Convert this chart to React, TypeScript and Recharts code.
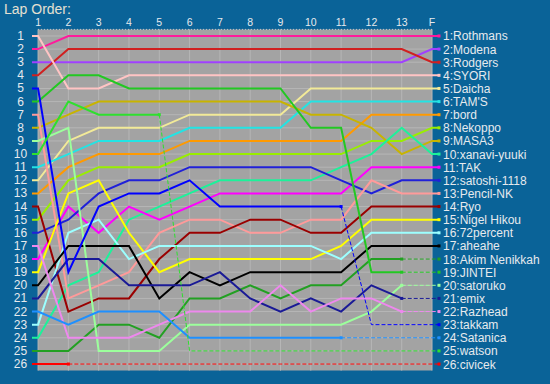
import { LineChart, Line, XAxis, YAxis, ReferenceArea, ReferenceLine } from 'recharts';

// lap columns: 1..13 then F
const lapLabels = ['1', '2', '3', '4', '5', '6', '7', '8', '9', '10', '11', '12', '13', 'F'];

const driverNames = [
  'Rothmans', 'Modena', 'Rodgers', 'SYORI', 'Daicha', "TAM'S", 'bord', 'Nekoppo', 'MASA3',
  'xanavi-yuuki', 'TAK', 'satoshi-1118', 'Pencil-NK', 'Ryo', 'Nigel Hikou', '72percent',
  'aheahe', 'Akim Nenikkah', 'JINTEI', 'satoruko', 'emix', 'Razhead', 'takkam', 'Satanica',
  'watson', 'civicek',
];

const driverColors = [
  '#ff1a9c', '#a040ff', '#d02020', '#ffc4c4', '#f2ea98', '#22e4e4', '#ff9a00', '#99ee00', '#c8b400',
  '#1cf29a', '#ff00ff', '#2020d8', '#ff9a9a', '#9a0000', '#ffff00', '#9cffff',
  '#000000', '#22a022', '#22c822', '#9cff9c', '#1a1a96', '#ee88ee', '#0000ff', '#1e90ff',
  '#2ee02e', '#ff0000',
];

// position at each lap (1..13, F)
const rothmans = [2, 1, 1, 1, 1, 1, 1, 1, 1, 1, 1, 1, 1, 1];
const modena = [3, 3, 3, 3, 3, 3, 3, 3, 3, 3, 3, 3, 3, 2];
const rodgers = [4, 2, 2, 2, 2, 2, 2, 2, 2, 2, 2, 2, 2, 3];
const syori = [1, 5, 5, 4, 4, 4, 4, 4, 4, 4, 4, 4, 4, 4];
const daicha = [12, 9, 8, 8, 8, 7, 7, 7, 7, 5, 5, 5, 5, 5];
const tams = [11, 10, 9, 9, 9, 8, 8, 8, 8, 6, 6, 6, 6, 6];
const bord = [13, 11, 10, 10, 10, 9, 9, 9, 9, 9, 9, 7, 7, 7];
const nekoppo = [15, 12, 11, 11, 11, 10, 10, 10, 10, 10, 10, 9, 9, 8];
const masa3 = [8, 7, 6, 6, 6, 6, 6, 6, 6, 7, 7, 8, 10, 9];
const xanavi = [24, 20, 19, 15, 14, 13, 12, 12, 12, 12, 11, 10, 8, 10];
const tak = [18, 14, 16, 14, 15, 14, 13, 13, 13, 13, 13, 11, 11, 11];
const satoshi = [16, 15, 13, 12, 12, 11, 11, 11, 11, 11, 12, 13, 12, 12];
const pencil = [7, 21, 20, 19, 16, 15, 15, 16, 16, 15, 15, 12, 13, 13];
const ryo = [14, 22, 21, 21, 18, 16, 16, 15, 15, 16, 16, 14, 14, 14];
const nigel = [19, 13, 12, 16, 19, 18, 18, 18, 18, 18, 17, 15, 15, 15];
const percent72 = [23, 16, 15, 18, 17, 17, 17, 17, 17, 17, 18, 16, 16, 16];
const aheahe = [20, 17, 17, 17, 21, 19, 20, 19, 19, 19, 19, 17, 17, 17];
const akim = [25, 25, 23, 23, 24, 21, 21, 20, 21, 20, 20, 18, 18, 18];
const jintei = [6, 4, 4, 5, 5, 5, 5, 5, 5, 8, 8, 19, 19, 19];
const satoruko = [9, 8, 25, 25, 25, 23, 23, 23, 23, 23, 23, 22, 20, 20];
const emix = [21, 18, 18, 20, 20, 20, 19, 21, 22, 21, 22, 20, 21, 21];
const razhead = [17, 24, 24, 24, 23, 22, 22, 22, 20, 22, 21, 21, 22, 22];
const takkam = [5, 19, 14, 13, 13, 12, 14, 14, 14, 14, 14, 23, 23, 23];
const satanica = [22, 23, 22, 22, 22, 24, 24, 24, 24, 24, 24, 24, 24, 24];
const watson = [10, 6, 7, 7, 7, 25, 25, 25, 25, 25, 25, 25, 25, 25];
const civicek = [26, 26, 26, 26, 26, 26, 26, 26, 26, 26, 26, 26, 26, 26];

const positions = [
  rothmans, modena, rodgers, syori, daicha, tams, bord, nekoppo, masa3, xanavi, tak, satoshi,
  pencil, ryo, nigel, percent72, aheahe, akim, jintei, satoruko, emix, razhead, takkam,
  satanica, watson, civicek,
];

// last lap driven (line turns dashed after it), 0 = finished
const retiredAfter = [0, 0, 0, 0, 0, 0, 0, 0, 0, 0, 0, 0, 0, 0, 0, 0, 0, 13, 13, 13, 13, 13, 11, 11, 5, 2];

const START_X = 0.8;
const END_X = 14.23;
const BG = '#0a6398';
const PLOT_BG = '#a3a3a3';
const GRID = '#b6b6b6';
const TEXT = '#e6eaee';
const FONT = '"Liberation Sans", Arial, sans-serif';

const xs = [START_X, ...lapLabels.map((_, i) => i + 1), END_X];

const data = xs.map((x) => {
  const row: Record<string, number | null> = { x };
  const lapIdx = x === START_X ? 0 : x === END_X ? lapLabels.length - 1 : x - 1;
  positions.forEach((pos, d) => {
    const r = retiredAfter[d];
    const v = pos[lapIdx];
    if (!r) {
      row[`s${d}`] = v;
      return;
    }
    const solid = x === START_X || (x !== END_X && x <= r);
    const dashed = x !== START_X && (x === END_X || x >= r);
    row[`s${d}`] = solid ? v : null;
    row[`d${d}`] = dashed ? v : null;
  });
  return row;
});

const makeDot = (color: string, at: number[]) => (props: any) => {
  const { cx, cy, payload, index } = props;
  if (cy == null || !at.includes(payload.x)) return <g key={index} />;
  return <rect key={index} x={cx - 1.5} y={cy - 1.5} width={3} height={3} fill={color} />;
};

const LapTick = (props: any) => (
  <text x={props.x} y={props.y} textAnchor="middle" fill={TEXT} fontSize={10.5} fontFamily={FONT}>
    {lapLabels[props.payload.value - 1]}
  </text>
);

const PosTick = (props: any) => (
  <text x={props.x} y={props.y} dy={4} textAnchor="middle" fill={TEXT} fontSize={12} fontFamily={FONT}>
    {props.payload.value}
  </text>
);

const NameTick = (props: any) => (
  <text x={props.x} y={props.y} dy={4.5} textAnchor="start" fill={TEXT} fontSize={12} fontFamily={FONT}>
    {`${props.payload.value}:${driverNames[props.payload.value - 1]}`}
  </text>
);

const rows = driverNames.map((_, i) => i + 1);
const laps = lapLabels.map((_, i) => i + 1);

export default function App() {
  return (
    <div style={{ position: 'fixed', left: 0, top: 0, width: 550, height: 384, background: BG }}>
      <div
        style={{
          position: 'absolute', left: 4, top: 1, color: '#e4e0d2',
          fontFamily: FONT, fontSize: 14, lineHeight: '16px',
        }}
      >
        Lap Order:
      </div>
      <LineChart width={550} height={384} data={data} margin={{ top: 9.4, right: 0, bottom: 13.4, left: 0 }}>
        <XAxis
          dataKey="x"
          type="number"
          orientation="top"
          domain={[START_X, END_X]}
          ticks={laps}
          height={20}
          axisLine={false}
          tickLine={false}
          tickSize={0}
          tickMargin={3}
          tick={<LapTick />}
          interval={0}
        />
        <YAxis
          type="number"
          domain={[0.5, 26.5]}
          reversed
          ticks={rows}
          width={32}
          axisLine={false}
          tickLine={false}
          tickSize={0}
          tickMargin={11.5}
          tick={<PosTick />}
          interval={0}
        />
        <YAxis
          yAxisId="names"
          orientation="right"
          type="number"
          domain={[0.5, 26.5]}
          reversed
          ticks={rows}
          width={111}
          axisLine={false}
          tickLine={false}
          tickSize={0}
          tickMargin={4}
          tick={<NameTick />}
          interval={0}
        />
        <ReferenceArea x1={1} x2={14} y1={0.5} y2={26.5} fill={PLOT_BG} fillOpacity={1} stroke="none" />
        {laps.map((l) => (
          <ReferenceLine key={`v${l}`} x={l} stroke={GRID} strokeWidth={1} />
        ))}
        <ReferenceLine segment={[{ x: 1, y: 0.5 }, { x: 14, y: 0.5 }]} stroke="#c8c8c8" strokeDasharray="1 2" />
        {rows.map((p) => (
          <ReferenceLine key={`h${p}`} segment={[{ x: 1, y: p }, { x: 14, y: p }]} stroke={GRID} strokeWidth={1} />
        ))}
        {/* invisible series so the right-hand name axis is drawn */}
        <Line
          yAxisId="names"
          dataKey="s0"
          stroke="none"
          dot={false}
          activeDot={false}
          legendType="none"
          isAnimationActive={false}
        />
        {positions.map((_, d) => {
          const color = driverColors[d];
          const r = retiredAfter[d];
          return [
            r ? (
              <Line
                key={`d${d}`}
                dataKey={`d${d}`}
                type="linear"
                stroke={color}
                strokeWidth={1}
                strokeDasharray="4 2"
                dot={makeDot(color, [END_X])}
                activeDot={false}
                isAnimationActive={false}
              />
            ) : null,
            <Line
              key={`s${d}`}
              dataKey={`s${d}`}
              type="linear"
              stroke={color}
              strokeWidth={2}
              dot={makeDot(color, r ? [r] : [END_X])}
              activeDot={false}
              isAnimationActive={false}
            />,
          ];
        })}
      </LineChart>
    </div>
  );
}
